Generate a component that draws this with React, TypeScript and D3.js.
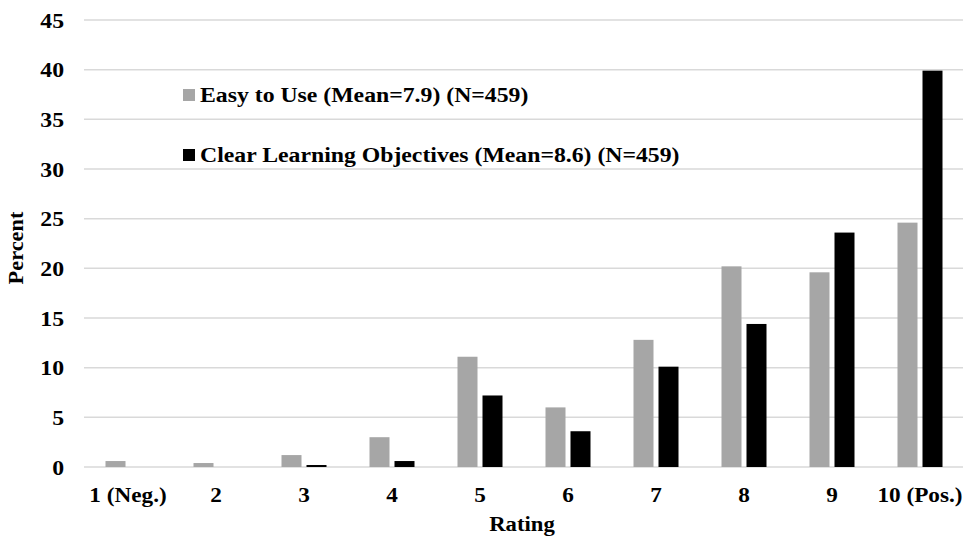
import React from "react";
import * as d3 from "d3";

const categories = ["1 (Neg.)", "2", "3", "4", "5", "6", "7", "8", "9", "10 (Pos.)"];
const seriesNames = ["Easy to Use (Mean=7.9) (N=459)", "Clear Learning Objectives (Mean=8.6) (N=459)"];
const easyToUse = [0.6, 0.4, 1.2, 3.0, 11.1, 6.0, 12.8, 20.2, 19.6, 24.6];
const clearObjectives = [0, 0, 0.2, 0.6, 7.2, 3.6, 10.1, 14.4, 23.6, 39.9];
const yTicks = [0, 5, 10, 15, 20, 25, 30, 35, 40, 45];
const colors = ["#a6a6a6", "#000000"];

const W = 963;
const H = 536;
const FONT = "'Liberation Serif', 'Times New Roman', serif";
const SX = 1.08;

function T({ x, y, anchor = "start", size = 22, rotate = 0, dy, children }: any) {
  return (
    <text
      transform={`translate(${x},${y}) rotate(${rotate}) scale(${SX},1)`}
      textAnchor={anchor}
      dy={dy}
      fontFamily={FONT}
      fontWeight="bold"
      fontSize={size}
      fill="#000"
    >
      {children}
    </text>
  );
}

export default function App() {
  const x0 = d3.scaleBand<string>().domain(categories).range([84, 964]).paddingInner(0).paddingOuter(0);
  const x1 = d3.scaleBand<string>().domain(seriesNames).range([21.5, 66.5]).paddingInner(0.2).paddingOuter(0);
  const y = d3.scaleLinear().domain([0, 45]).range([467, 20]);
  const data = [easyToUse, clearObjectives];

  return (
    <svg width={W} height={H} style={{ position: "absolute", left: 0, top: 0, background: "#fff" }}>
      <rect x={0} y={0} width={W} height={H} fill="#fff" />
      {yTicks.map((t) => (
        <g key={t}>
          <line x1={84} x2={963} y1={y(t)} y2={y(t)} stroke="#d9d9d9" strokeWidth={1.5} />
          <T x={64} y={y(t)} anchor="end" dy="0.35em" size={22}>
            {t}
          </T>
        </g>
      ))}
      {data.map((vals, si) =>
        vals.map((v, ci) => (
          <rect
            key={`${si}-${ci}`}
            x={(x0(categories[ci]) as number) + (x1(seriesNames[si]) as number)}
            y={y(v)}
            width={x1.bandwidth()}
            height={y(0) - y(v)}
            fill={colors[si]}
          />
        ))
      )}
      {categories.map((c) => (
        <T key={c} x={(x0(c) as number) + x0.bandwidth() / 2} y={502} anchor="middle" size={21.5}>
          {c}
        </T>
      ))}
      <T x={522} y={531} anchor="middle" size={21}>
        Rating
      </T>
      <text
        transform="translate(23,248) rotate(-90) scale(1.04,1)"
        textAnchor="middle"
        fontFamily={FONT}
        fontWeight="bold"
        fontSize={21.5}
        fill="#000"
      >
        Percent
      </text>
      {seriesNames.map((s, i) => (
        <g key={s} transform={`translate(183,${89 + i * 60})`}>
          <rect x={0} y={0} width={12} height={12} fill={colors[i]} />
          <T x={17} y={12.5} size={22}>
            {s}
          </T>
        </g>
      ))}
    </svg>
  );
}
